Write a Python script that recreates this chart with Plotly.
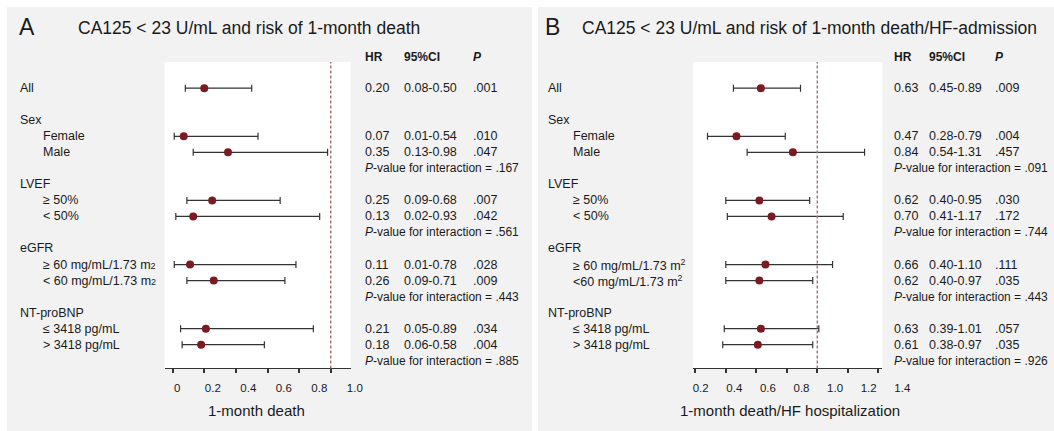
import plotly.graph_objects as go

# ---------------- data ----------------
groups = ["Sex", "LVEF", "eGFR", "NT-proBNP"]

subgroups_A = [["Female", "Male"],
               ["≥ 50%", "< 50%"],
               ['≥ 60 mg/mL/1.73 m<span style="font-size:9px">2</span>',
                '< 60 mg/mL/1.73 m<span style="font-size:9px">2</span>'],
               ["≤ 3418 pg/mL", "> 3418 pg/mL"]]
subgroups_B = [["Female", "Male"],
               ["≥ 50%", "< 50%"],
               ["≥ 60 mg/mL/1.73 m<sup>2</sup>", "<60 mg/mL/1.73 m<sup>2</sup>"],
               ["≤ 3418 pg/mL", "> 3418 pg/mL"]]

# order: All, then 2 subgroups per group
hr_A = [0.20, 0.07, 0.35, 0.25, 0.13, 0.11, 0.26, 0.21, 0.18]
lo_A = [0.08, 0.01, 0.13, 0.09, 0.02, 0.01, 0.09, 0.05, 0.06]
hi_A = [0.50, 0.54, 0.98, 0.68, 0.93, 0.78, 0.71, 0.89, 0.58]
p_A = [".001", ".010", ".047", ".007", ".042", ".028", ".009", ".034", ".004"]
pint_A = [".167", ".561", ".443", ".885"]

hr_B = [0.63, 0.47, 0.84, 0.62, 0.70, 0.66, 0.62, 0.63, 0.61]
lo_B = [0.45, 0.28, 0.54, 0.40, 0.41, 0.40, 0.40, 0.39, 0.38]
hi_B = [0.89, 0.79, 1.31, 0.95, 1.17, 1.10, 0.97, 1.01, 0.97]
p_B = [".009", ".004", ".457", ".030", ".172", ".111", ".035", ".057", ".035"]
pint_B = [".091", ".744", ".443", ".926"]

ticks_A = [0, 0.2, 0.4, 0.6, 0.8, 1.0]
ticklabels_A = ["0", "0.2", "0.4", "0.6", "0.8", "1.0"]
ticks_B = [0.2, 0.4, 0.6, 0.8, 1.0, 1.2, 1.4]
ticklabels_B = ["0.2", "0.4", "0.6", "0.8", "1.0", "1.2", "1.4"]

titles = ["CA125 < 23 U/mL and risk of 1-month death",
          "CA125 < 23 U/mL and risk of 1-month death/HF-admission"]
xtitles = ["1-month death", "1-month death/HF hospitalization"]
letters = ["A", "B"]

# ---------------- layout helpers ----------------
W, H = 1054, 431
def px(x):
    return x / W
def py(y):
    return 1 - y / H

FONT = "Liberation Sans, Arial, Helvetica, sans-serif"
TXT = "#1a1a1a"
GRAY = "#f2f2f2"
RED = "#7b1a22"
DASH = "#a8767a"
LINE = "#333333"
PAD = 2  # annotation inner padding

# rows: 0 All, 1 blank, then per group: header, sub1, sub2, p-int
est_rows = [0]
header_rows = []
pint_rows = []
r = 2
for g in groups:
    header_rows.append(r)
    est_rows += [r + 1, r + 2]
    pint_rows.append(r + 3)
    r += 4

row0_px, row_step = 88.2, 16.03
plot_top, plot_bot = 61.9, 368.4
y_range = [(plot_bot - row0_px) / row_step, (plot_top - row0_px) / row_step]
y_domain = [py(plot_bot), py(plot_top)]

panels = [
    dict(hr=hr_A, lo=lo_A, hi=hi_A, p=p_A, pint=pint_A, subs=subgroups_A,
         ticks=ticks_A, tl=ticklabels_A,
         dom=[164.6, 350.5], rng=[-0.051, 1.125],
         ldom=[164.6, 366.0], lrng=[(164.6 - 177.3) / 177.5, (366.0 - 177.3) / 177.5],
         gray=[7, 532], lab=[20.3, 43.3], cols=[365, 404, 473],
         letter_x=19, title_x=77.7, xt_c=256),
    dict(hr=hr_B, lo=lo_B, hi=hi_B, p=p_B, pint=pint_B, subs=subgroups_B,
         ticks=ticks_B, tl=ticklabels_B,
         dom=[693.0, 882.4], rng=[0.2 + (693.0 - 695.3) / 152.5, 0.2 + (882.4 - 695.3) / 152.5],
         ldom=[693.0, 916.0], lrng=[0.2 + (693.0 - 700.7) / 168.0, 0.2 + (916.0 - 700.7) / 168.0],
         gray=[538, 1054], lab=[548.4, 572.8], cols=[893.5, 929, 994.5],
         letter_x=545, title_x=581.8, xt_c=790),
]

fig = go.Figure()
shapes = []
annotations = []
layout_axes = {}

for i, P in enumerate(panels):
    k = i + 1              # data axis index
    kl = i + 3             # tick-label axis index
    xa = "x" if k == 1 else f"x{k}"
    ya = "y" if k == 1 else f"y{k}"
    xname = "xaxis" if k == 1 else f"xaxis{k}"
    yname = "yaxis" if k == 1 else f"yaxis{k}"

    # panel background
    shapes.append(dict(type="rect", xref="paper", yref="paper",
                       x0=px(P["gray"][0]), x1=px(P["gray"][1]), y0=0, y1=py(7),
                       fillcolor=GRAY, line=dict(width=0), layer="below"))
    # white plotting area
    shapes.append(dict(type="rect", xref=f"{xa} domain", yref=f"{ya} domain",
                       x0=0, x1=1, y0=0, y1=1, fillcolor="white",
                       line=dict(width=0), layer="below"))
    # reference line at HR = 1
    shapes.append(dict(type="line", xref=xa, yref=f"{ya} domain",
                       x0=1, x1=1, y0=0, y1=1,
                       line=dict(color=DASH, width=1.5, dash="3px,2px")))

    ys = [est_rows[j] for j in range(len(P["hr"]))]
    fig.add_trace(go.Scatter(
        x=P["hr"], y=ys, mode="markers", xaxis=xa, yaxis=ya,
        marker=dict(color=RED, size=8, symbol="circle"),
        error_x=dict(type="data", symmetric=False,
                     array=[h - m for h, m in zip(P["hi"], P["hr"])],
                     arrayminus=[m - l for m, l in zip(P["hr"], P["lo"])],
                     color=LINE, thickness=1.2, width=3.5),
        showlegend=False, hoverinfo="skip"))

    layout_axes[xname] = dict(domain=[px(P["dom"][0]), px(P["dom"][1])],
                              range=P["rng"], anchor=ya, showgrid=False, zeroline=False,
                              showline=True, linecolor=LINE, linewidth=1,
                              ticks="outside", ticklen=4, tickwidth=1.5, tickcolor=LINE,
                              tickvals=P["ticks"], showticklabels=False, fixedrange=True)
    layout_axes[yname] = dict(domain=y_domain, range=y_range, anchor=xa,
                              visible=False, fixedrange=True)

    # tick-label axis (labels sit at their own spacing, as in the source figure)
    xla = f"x{kl}"
    yla = f"y{kl}"
    fig.add_trace(go.Scatter(x=P["ticks"], y=[0] * len(P["ticks"]), mode="markers",
                             xaxis=xla, yaxis=yla, marker=dict(opacity=0),
                             showlegend=False, hoverinfo="skip"))
    layout_axes[f"xaxis{kl}"] = dict(domain=[px(P["ldom"][0]), px(P["ldom"][1])],
                                     range=P["lrng"], anchor=yla, showgrid=False,
                                     zeroline=False, showline=False,
                                     ticks="outside", ticklen=9, tickcolor="rgba(0,0,0,0)",
                                     tickvals=P["ticks"], ticktext=P["tl"],
                                     tickfont=dict(size=11.5, color=TXT, family=FONT),
                                     fixedrange=True)
    layout_axes[f"yaxis{kl}"] = dict(domain=y_domain, range=y_range, anchor=xla,
                                     visible=False, fixedrange=True)

    # letters and titles
    annotations.append(dict(text=letters[i], xref="paper", yref="paper",
                            x=px(P["letter_x"] - PAD), y=py(27), xanchor="left", yanchor="middle",
                            showarrow=False, font=dict(size=23, color=TXT, family=FONT)))
    annotations.append(dict(text=titles[i], xref="paper", yref="paper",
                            x=px(P["title_x"] - PAD), y=py(28), xanchor="left", yanchor="middle",
                            showarrow=False, font=dict(size=17.5, color=TXT, family=FONT)))
    # x-axis title
    annotations.append(dict(text=xtitles[i], xref="paper", yref="paper",
                            x=px(P["xt_c"]), y=py(410), xanchor="center", yanchor="middle",
                            showarrow=False, font=dict(size=15, color=TXT, family=FONT)))
    # column headers
    for txt, cx in zip(["<b>HR</b>", "<b>95%CI</b>", "<b><i>P</i></b>"], P["cols"]):
        annotations.append(dict(text=txt, xref="paper", yref="paper", x=px(cx - PAD), y=py(57.5),
                                xanchor="left", yanchor="middle", showarrow=False,
                                font=dict(size=12, color=TXT, family=FONT)))

    # row labels
    def lab(text, row, indent):
        annotations.append(dict(text=text, xref="paper", yref=ya,
                                x=px((P["lab"][1] if indent else P["lab"][0]) - PAD), y=row,
                                xanchor="left", yanchor="middle", showarrow=False,
                                font=dict(size=12.5, color=TXT, family=FONT)))
    lab("All", 0, False)
    for gi, g in enumerate(groups):
        lab(g, header_rows[gi], False)
        for si, s in enumerate(P["subs"][gi]):
            lab(s, header_rows[gi] + 1 + si, True)

    # values
    for j, row in enumerate(est_rows):
        vals = [f"{P['hr'][j]:.2f}", f"{P['lo'][j]:.2f}-{P['hi'][j]:.2f}", P["p"][j]]
        for v, cx in zip(vals, P["cols"]):
            annotations.append(dict(text=v, xref="paper", yref=ya, x=px(cx - PAD), y=row,
                                    xanchor="left", yanchor="middle", showarrow=False,
                                    font=dict(size=12.5, color=TXT, family=FONT)))
    for gi, row in enumerate(pint_rows):
        annotations.append(dict(text=f"<i>P</i>-value for interaction = {P['pint'][gi]}",
                                xref="paper", yref=ya, x=px(P["cols"][0] - PAD), y=row,
                                xanchor="left", yanchor="middle", showarrow=False,
                                font=dict(size=12, color=TXT, family=FONT)))

fig.update_layout(width=W, height=H, margin=dict(l=0, r=0, t=0, b=0),
                  paper_bgcolor="white", plot_bgcolor="rgba(0,0,0,0)",
                  shapes=shapes, annotations=annotations,
                  font=dict(family=FONT, color=TXT), showlegend=False, **layout_axes)

fig.write_html("out.html", config={"displayModeBar": False},
               post_script="document.body.style.margin='0';"
                           "document.body.style.overflow='hidden';")
